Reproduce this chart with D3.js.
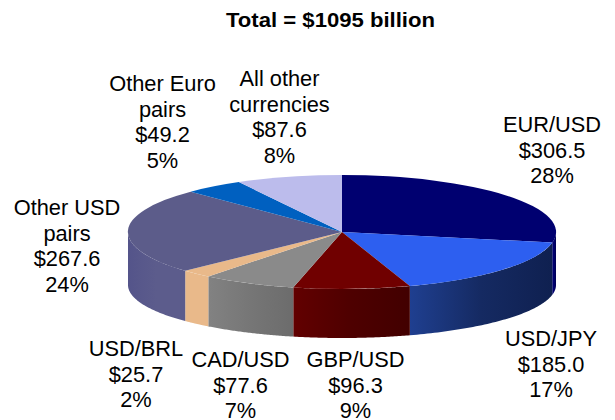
<!DOCTYPE html>
<html><head><meta charset="utf-8">
<script src="https://cdn.jsdelivr.net/npm/d3@7"></script>
<style>html,body{margin:0;padding:0;background:#fff}svg{display:block}text{font-family:"Liberation Sans",Arial,sans-serif;fill:#000}</style>
</head><body><svg id="c" width="615" height="420"></svg>
<script>
const title = "Total = $1095 billion";
const categories = ["EUR/USD","USD/JPY","GBP/USD","CAD/USD","USD/BRL","Other USD pairs","Other Euro pairs","All other currencies"];
const values = [306.5,185.0,96.3,77.6,25.7,267.6,49.2,87.6];
const topColors = ["#000070","#2d5ff0","#700000","#8a8a8a","#e9b98a","#5c5c8a","#0060c0","#bcbcec"];
const wallLeft = ["#000070","#1f3f90","#620000","#828282","#e9b98a","#54548a","#0060c0","#bcbcec"];
const wallMid = ["#000070","#152a62","#4e0000","#767676","#e9b98a","#5c5c8c","#0060c0","#bcbcec"];
const wallRight = ["#000050","#0f2050","#420000","#6c6c6c","#e9b98a","#5c5c8c","#0060c0","#bcbcec"];
const labelLines = [
 ["EUR/USD","$306.5","28%"],["USD/JPY","$185.0","17%"],["GBP/USD","$96.3","9%"],["CAD/USD","$77.6","7%"],
 ["USD/BRL","$25.7","2%"],["Other USD","pairs","$267.6","24%"],["Other Euro","pairs","$49.2","5%"],["All other","currencies","$87.6","8%"]];
const labelAt = [[552,132],[551,346],[355.5,367],[240.5,367],[136,356],[67,215],[162.5,91],[279.5,86]];

const svg = d3.select("#c");
const sx = d3.scaleLinear().domain([-1,1]).range([128,556]);
const sy = d3.scaleLinear().domain([-1,1]).range([175,289]);
const syBottom = d3.scaleLinear().domain([-1,1]).range([232,338]);
const slices = d3.pie().sort(null).value(d=>d)(values);
const defs = svg.append("defs");
const PI = Math.PI;
const wall = d3.area().x(a=>sx(Math.sin(a))).y0(a=>sy(-Math.cos(a))).y1(a=>syBottom(-Math.cos(a)));
slices.forEach((s,i)=>{
  const a0=Math.max(s.startAngle,PI/2), a1=Math.min(s.endAngle,3*PI/2);
  if(a1<=a0) return;
  const g=defs.append("linearGradient").attr("id","w"+i);
  g.append("stop").attr("offset","0").attr("stop-color",wallLeft[i]);
  g.append("stop").attr("offset","0.5").attr("stop-color",wallMid[i]);
  g.append("stop").attr("offset","1").attr("stop-color",wallRight[i]);
  const pts=d3.range(0,61).map(k=>a0+(a1-a0)*k/60);
  svg.append("path").attr("d",wall(pts)).attr("fill",`url(#w${i})`);
});
const arc=d3.arc().innerRadius(0).outerRadius(1);
const top3=svg.append("g").attr("transform",`translate(${sx(0)},${sy(0)}) scale(${sx(1)-sx(0)},${sy(1)-sy(0)})`);
top3.selectAll("path").data(slices).join("path").attr("d",arc).attr("fill",(d,i)=>topColors[i]);
svg.append("text").attr("x",330.5).attr("y",27).attr("text-anchor","middle").attr("font-size",20).attr("font-weight","bold").attr("textLength",209).attr("lengthAdjust","spacingAndGlyphs").text(title);
labelLines.forEach((ls,i)=>{
  const t=svg.append("text").attr("text-anchor","middle").attr("font-size",21.8);
  ls.forEach((l,j)=>t.append("tspan").attr("x",labelAt[i][0]).attr("y",labelAt[i][1]+j*25.5).text(l));
});
</script></body></html>
